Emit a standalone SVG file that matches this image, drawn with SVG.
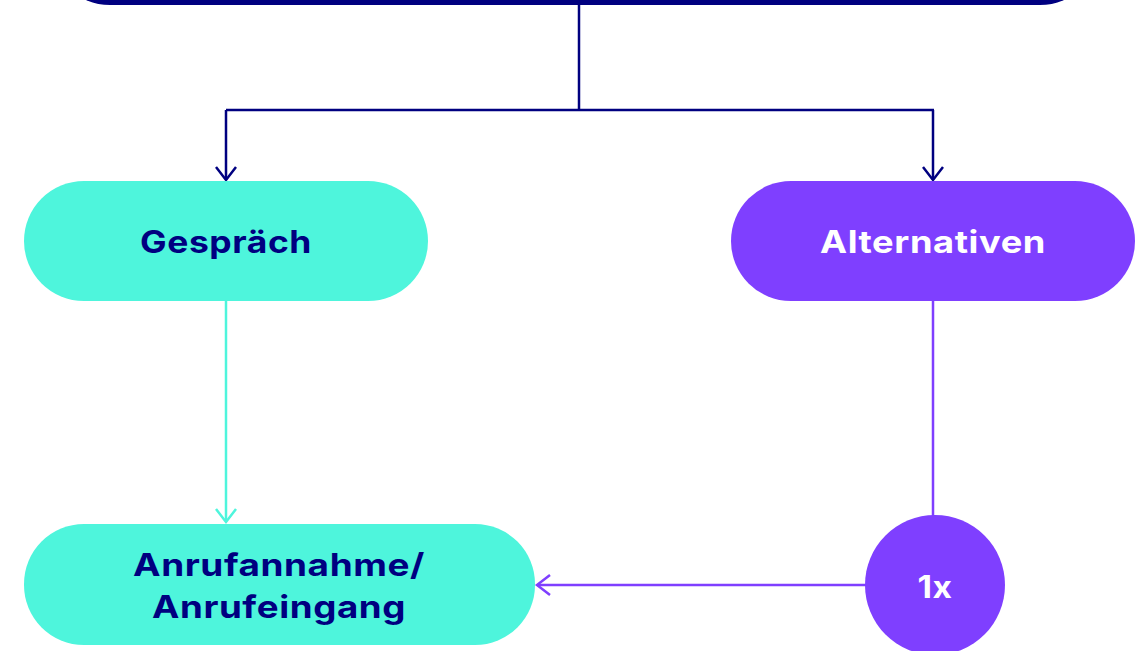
<svg xmlns="http://www.w3.org/2000/svg" width="1143" height="651" viewBox="0 0 1143 651">
<style>
.lbl{font-family:Inter,"Noto Sans",sans-serif;font-weight:700;font-size:31px;text-anchor:middle;dominant-baseline:central;letter-spacing:0.5px}
.navy{fill:#000080}
.white{fill:#ffffff}
.cn{fill:none;stroke-width:2.5;stroke-linejoin:miter}
</style>
<defs>
<marker id="aN" markerWidth="18" markerHeight="24" refX="15" refY="11" orient="auto" markerUnits="userSpaceOnUse"><path d="M2,1 L15,11 L2,21" fill="none" stroke="#000080" stroke-width="2.5"/></marker>
<marker id="aC" markerWidth="18" markerHeight="24" refX="15" refY="11" orient="auto" markerUnits="userSpaceOnUse"><path d="M2,1 L15,11 L2,21" fill="none" stroke="#4EF5DC" stroke-width="2.5"/></marker>
<marker id="aP" markerWidth="18" markerHeight="24" refX="15" refY="11" orient="auto" markerUnits="userSpaceOnUse"><path d="M2,1 L15,11 L2,21" fill="none" stroke="#7F3FFF" stroke-width="2.5"/></marker>
</defs>
<g id="connectors">
<path class="cn" d="M579,4 V110" stroke="#000080"/>
<path class="cn" d="M226,110 H934" stroke="#000080"/>
<path class="cn" d="M226,110 V180" stroke="#000080" marker-end="url(#aN)"/>
<path class="cn" d="M933,110 V180" stroke="#000080" marker-end="url(#aN)"/>
<path class="cn" d="M226,301 V522" stroke="#4EF5DC" marker-end="url(#aC)"/>
<path class="cn" d="M933,301 V516" stroke="#7F3FFF"/>
<path class="cn" d="M866,585 H537" stroke="#7F3FFF" marker-end="url(#aP)"/>
</g>
<g id="top">
<rect x="50" y="-120" width="1050" height="125" rx="60" fill="#000080"/>
</g>
<g id="gespraech">
<rect x="24" y="181" width="404" height="120" rx="60" fill="#4EF5DC"/>
<text class="lbl navy" x="226" y="241" textLength="172" lengthAdjust="spacingAndGlyphs">Gespräch</text>
</g>
<g id="alternativen">
<rect x="731" y="181" width="404" height="120" rx="60" fill="#7F3FFF"/>
<text class="lbl white" x="933" y="241" textLength="226" lengthAdjust="spacingAndGlyphs">Alternativen</text>
</g>
<g id="anruf">
<rect x="24" y="524" width="511" height="121" rx="60" fill="#4EF5DC"/>
<text class="lbl navy" x="279" y="564" textLength="292" lengthAdjust="spacingAndGlyphs">Anrufannahme/</text>
<text class="lbl navy" x="279" y="606" textLength="254" lengthAdjust="spacingAndGlyphs">Anrufeingang</text>
</g>
<g id="einmal">
<circle cx="935" cy="585" r="70" fill="#7F3FFF"/>
<text class="lbl white" x="935" y="586" textLength="35" lengthAdjust="spacingAndGlyphs">1x</text>
</g>
</svg>
